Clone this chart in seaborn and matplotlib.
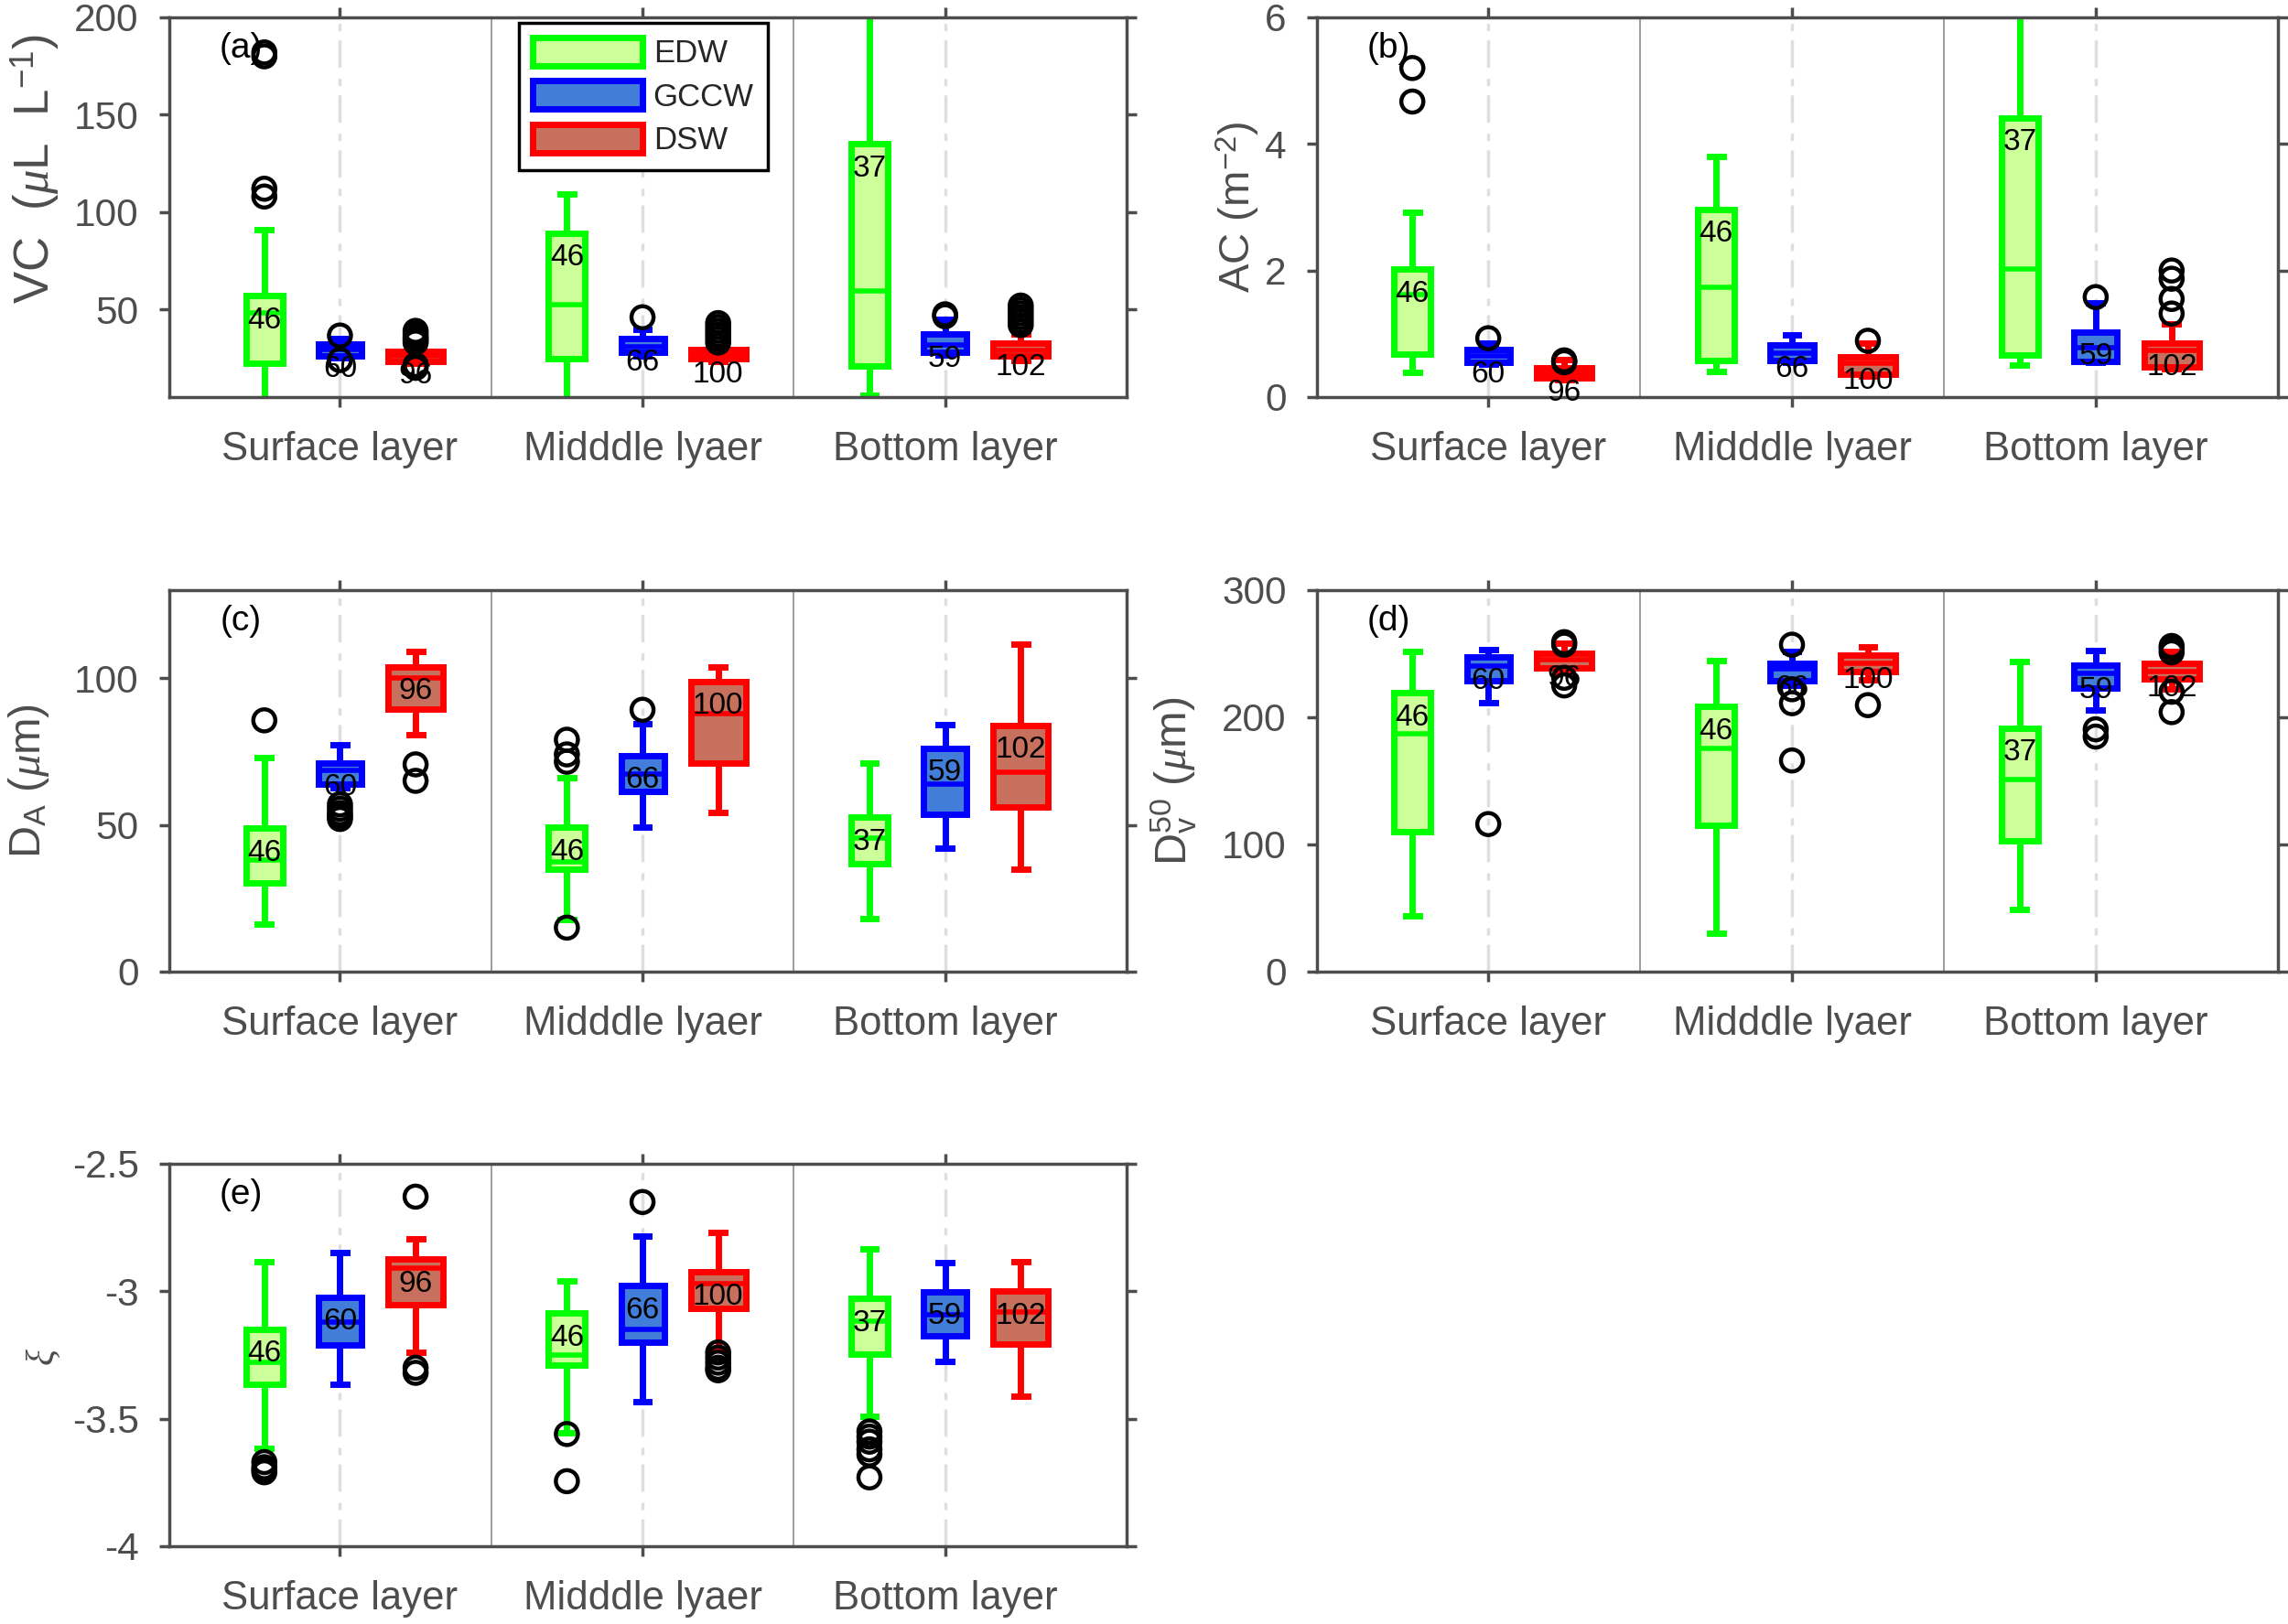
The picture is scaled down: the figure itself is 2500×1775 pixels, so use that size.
import matplotlib
matplotlib.use("Agg")
import matplotlib.pyplot as plt
from matplotlib.patches import Patch
import pandas as pd
import seaborn as sns

# categorias y grupos
layers = ["Surface layer", "Midddle lyaer", "Bottom layer"]
masses = ["EDW", "GCCW", "DSW"]
n_obs = [[46, 46, 37], [60, 66, 59], [96, 100, 102]]

# filas = masa de agua (EDW, GCCW, DSW), columnas = capa
# (a) VC
vc_lo = [[2, 2, 6], [25, 26, 26.5], [22.5, 23.5, 24]]
vc_q1 = [[22.5, 24.6, 21.1], [26, 28, 28.1], [23.3, 24.6, 26.3]]
vc_med = [[48, 52.6, 59.6], [29.5, 31, 32], [26, 27, 29]]
vc_q3 = [[57, 89.3, 135], [32.2, 35.1, 37.2], [28.5, 29.4, 32.8]]
vc_hi = [[91, 109.5, 215], [35, 40, 45], [30, 31, 37.5]]
vc_out = [[[182, 180, 112, 108], [], []],
          [[36.6, 24], [46], [47.5, 46.5]],
          [[39, 37.5, 36, 35, 34, 33, 21.5, 20], [43, 41, 39, 37, 35, 33], [52, 50, 48, 46, 44, 42]]]

# (b) AC
ac_lo = [[0.39, 0.4, 0.5], [0.52, 0.55, 0.55], [0.27, 0.33, 0.45]]
ac_q1 = [[0.68, 0.58, 0.67], [0.55, 0.575, 0.565], [0.30, 0.36, 0.48]]
ac_med = [[1.62, 1.73, 2.02], [0.65, 0.70, 0.78], [0.38, 0.54, 0.73]]
ac_q3 = [[2.02, 2.97, 4.41], [0.75, 0.83, 1.03], [0.46, 0.64, 0.86]]
ac_hi = [[2.92, 3.8, 6.3], [0.85, 0.98, 1.49], [0.59, 0.85, 1.15]]
ac_out = [[[5.2, 4.67], [], []],
          [[0.93], [], [1.58]],
          [[0.58, 0.56, 0.55], [0.89], [2.0, 1.87, 1.55, 1.32]]]

# (c) D_A
da_lo = [[16.1, 17.8, 18.1], [62.5, 49.2, 42.2], [80.6, 54.1, 35]]
da_q1 = [[30.3, 35, 36.7], [63.9, 61.4, 53.7], [89.4, 71.1, 56.1]]
da_med = [[38, 37.5, 45.6], [68.7, 67.2, 63.9], [100, 87.8, 67.8]]
da_q3 = [[48.9, 49.2, 52.6], [71.1, 73.7, 76.1], [103.9, 98.9, 83.9]]
da_hi = [[72.8, 66.1, 70.9], [77.2, 84.4, 84.1], [109.1, 103.9, 111.7]]
da_out = [[[85.6], [79, 74, 71.5, 15], []],
          [[57, 55.5, 54, 53, 52], [89.2], []],
          [[70.6, 65], [], []]]

# (d) D_v50
dv_lo = [[43.6, 30, 49.2], [211.6, 225, 205.7], [235, 229.5, 222]]
dv_q1 = [[110.3, 115.4, 103], [228.4, 228.7, 223], [238.7, 235.9, 230]]
dv_med = [[186.7, 175.6, 151.3], [240, 237.7, 234.4], [245, 242.3, 236]]
dv_q3 = [[219.2, 208.2, 191.5], [247.5, 242.3, 240.8], [250.2, 248.7, 242.3]]
dv_hi = [[251.8, 244.4, 243.6], [253, 252, 252.3], [258, 255.1, 252]]
dv_out = [[[], [], []],
          [[116], [257, 222, 211, 166], [190.5, 184.8]],
          [[259, 257, 231, 225], [209.5], [256, 254, 251, 220, 204]]]

# (e) xi
xi_lo = [[-3.616, -3.554, -3.489], [-3.364, -3.433, -3.276], [-3.238, -3.229, -3.41]]
xi_q1 = [[-3.366, -3.288, -3.245], [-3.21, -3.201, -3.176], [-3.054, -3.066, -3.208]]
xi_med = [[-3.279, -3.25, -3.116], [-3.12, -3.148, -3.091], [-2.91, -2.97, -3.08]]
xi_q3 = [[-3.148, -3.085, -3.029], [-3.023, -2.979, -3.001], [-2.873, -2.925, -3.0]]
xi_hi = [[-2.885, -2.96, -2.833], [-2.848, -2.785, -2.888], [-2.795, -2.77, -2.885]]
xi_out = [[[-3.67, -3.69, -3.70, -3.71], [-3.56, -3.745], [-3.55, -3.57, -3.59, -3.62, -3.64, -3.73]],
          [[], [-2.65], []],
          [[-2.629, -3.30, -3.32], [-3.24, -3.26, -3.28, -3.30, -3.31], []]]

# estilo
sns.set_theme(style="ticks")
plt.rcParams["font.family"] = ["Liberation Sans", "DejaVu Sans"]
plt.rcParams["mathtext.fontset"] = "custom"
plt.rcParams["mathtext.rm"] = "Liberation Sans"
plt.rcParams["mathtext.it"] = "Liberation Serif:italic"
plt.rcParams["mathtext.bf"] = "Liberation Sans:bold"
plt.rcParams["axes.unicode_minus"] = False

edge_cols = [(0, 1, 0), (0, 0, 1), (1, 0, 0)]
face_cols = [(0.8, 1, 0.6), (0.26, 0.49, 0.85), (0.78, 0.44, 0.37)]
offsets = [-0.25, 0, 0.25]
box_w = [0.121, 0.142, 0.182]
gris = "0.3"


def dibujar_panel(ax, lo, q1, med, q3, hi, out, ylim, yticks, ylabel, label_xy, tag, ylabel_size=34):
    ax.set_xlim(0.436, 3.6)
    ax.set_ylim(*ylim)
    rango = ylim[1] - ylim[0]

    for k in [1, 2, 3]:
        ax.axvline(k, color="0.87", lw=2.5, dashes=(8.6, 2.9, 2.3, 3.5), zorder=0.3)
    for k in [1.5, 2.5]:
        ax.axvline(k, color="0.55", lw=1.2, zorder=0.4)

    filas = []
    for i in range(3):
        stats = []
        pos = []
        for j in range(3):
            stats.append(dict(whislo=lo[i][j], q1=q1[i][j], med=med[i][j],
                              q3=q3[i][j], whishi=hi[i][j], fliers=[]))
            pos.append(j + 1 + offsets[i])
            for v in out[i][j]:
                filas.append({"x": j + 1 + offsets[i], "y": v})
        ax.bxp(stats, positions=pos, widths=box_w[i], capwidths=0.045,
               patch_artist=True, showfliers=False, manage_ticks=False,
               boxprops=dict(facecolor=face_cols[i], edgecolor=edge_cols[i], linewidth=5),
               whiskerprops=dict(color=edge_cols[i], linewidth=5, solid_capstyle="butt"),
               capprops=dict(color=edge_cols[i], linewidth=5, solid_capstyle="projecting"),
               medianprops=dict(color=edge_cols[i], linewidth=4, solid_capstyle="butt"))

    if filas:
        df = pd.DataFrame(filas)
        sns.scatterplot(data=df, x="x", y="y", ax=ax, marker="o", s=300,
                        facecolors="none", edgecolor="black", linewidth=3.2,
                        zorder=5, legend=False)

    for i in range(3):
        for j in range(3):
            ax.text(j + 1 + offsets[i], q3[i][j] - 0.065 * rango, str(n_obs[i][j]),
                    ha="center", va="center", fontsize=24, color="black", zorder=6)

    ax.set_xticks([1, 2, 3])
    ax.set_xticklabels(layers)
    ax.set_yticks(yticks)
    ax.set_yticklabels(["%g" % t for t in yticks])
    ax.set_xlabel("")
    ax.set_ylabel(ylabel, fontsize=ylabel_size, color=gris)
    ax.yaxis.set_label_coords(*label_xy)
    ax.tick_params(axis="both", direction="out", length=8, width=2.5, colors=gris,
                   top=True, right=True)
    ax.tick_params(axis="x", pad=19, labelsize=31.5)
    ax.tick_params(axis="y", pad=16, labelsize=30.5)
    for sp in ax.spines.values():
        sp.set_visible(True)
        sp.set_color(gris)
        sp.set_linewidth(2.5)
    ax.text(0.075, 0.918, tag, transform=ax.transAxes, fontsize=28,
            ha="center", va="center", color="black")


fig = plt.figure(figsize=(25, 17.75), dpi=100)
ax_a = fig.add_axes([0.074, 0.7555, 0.4184, 0.2338])
ax_b = fig.add_axes([0.5756, 0.7555, 0.42, 0.2338])
ax_c = fig.add_axes([0.074, 0.4017, 0.4184, 0.235])
ax_d = fig.add_axes([0.5756, 0.4017, 0.42, 0.235])
ax_e = fig.add_axes([0.074, 0.0479, 0.4184, 0.2355])

dibujar_panel(ax_a, vc_lo, vc_q1, vc_med, vc_q3, vc_hi, vc_out, (5, 200),
              [50, 100, 150, 200], r"VC  ($\mu$L  L$^{-1}$)", (-0.113, 0.6), "(a)",
              ylabel_size=38)
dibujar_panel(ax_b, ac_lo, ac_q1, ac_med, ac_q3, ac_hi, ac_out, (0, 6),
              [0, 2, 4, 6], r"AC (m$^{-2}$)", (-0.057, 0.5), "(b)")
dibujar_panel(ax_c, da_lo, da_q1, da_med, da_q3, da_hi, da_out, (0, 130),
              [0, 50, 100], r"D$_\mathrm{A}$ ($\mu$m)", (-0.123, 0.5), "(c)", ylabel_size=35)
dibujar_panel(ax_d, dv_lo, dv_q1, dv_med, dv_q3, dv_hi, dv_out, (0, 300),
              [0, 100, 200, 300], r"D$_\mathrm{v}^\mathrm{50}$ ($\mu$m)", (-0.123, 0.5), "(d)",
              ylabel_size=35)
dibujar_panel(ax_e, xi_lo, xi_q1, xi_med, xi_q3, xi_hi, xi_out, (-4, -2.5),
              [-4, -3.5, -3, -2.5], r"$\xi$", (-0.112, 0.495), "(e)", ylabel_size=30)

# leyenda
handles = [Patch(facecolor=face_cols[i], edgecolor=edge_cols[i], linewidth=5, label=masses[i])
           for i in range(3)]
leg = ax_a.legend(handles=handles, loc="upper left", bbox_to_anchor=(0.365, 0.9855),
                  borderaxespad=0, fontsize=25, frameon=True, fancybox=False,
                  framealpha=1, edgecolor="black", handlelength=3.43, handleheight=1.0,
                  borderpad=0.45, labelspacing=0.38, handletextpad=0.35)
leg.get_frame().set_linewidth(2.5)
leg.set_zorder(10)

fig.savefig("out.png", dpi=100)
